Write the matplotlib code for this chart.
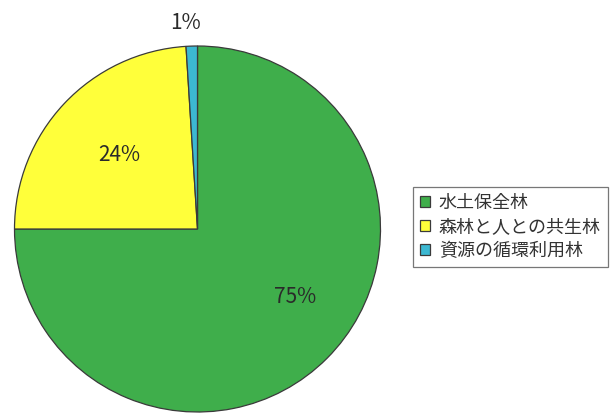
import numpy as np
import matplotlib
matplotlib.use('Agg')
import matplotlib.pyplot as plt

plt.rcParams['font.family'] = ['Noto Sans CJK JP', 'DejaVu Sans']

labels = ['水土保全林', '森林と人との共生林', '資源の循環利用林']
shares = [75, 24, 1]
colors = ['#3fae4b', '#ffff3a', '#3cb8d2']
# radial position of each percentage label (fraction of radius)
label_dist = [0.65, 0.59, 1.13]
label_shift = [10, 0, 1.5]  # degrees, nudged from wedge centre


def main():
    fig = plt.figure(figsize=(6.11, 4.13), dpi=100)
    W, H = 611, 413
    cx, cy, r = 197.5, 184, 183
    ax = fig.add_axes([(cx - r) / W, (cy - r) / H, 2 * r / W, 2 * r / H])

    wedges, _ = ax.pie(shares, colors=colors, startangle=90, counterclock=False,
                       radius=1.0,
                       wedgeprops=dict(edgecolor='#3a3a3a', linewidth=0.9))
    ax.set_xlim(-1, 1)
    ax.set_ylim(-1, 1)
    ax.set_aspect('equal')
    ax.axis('off')

    for w, s, d, sh in zip(wedges, shares, label_dist, label_shift):
        ang = np.deg2rad((w.theta1 + w.theta2) / 2 + sh)
        ax.text(d * np.cos(ang), d * np.sin(ang), f'{s}%',
                ha='center', va='center', fontsize=15, color='#2a2a2a',
                clip_on=False)

    leg = fig.legend(wedges, labels, loc='center left',
                     bbox_to_anchor=(413 / W, 1 - 227 / H),
                     fontsize=13, frameon=True, fancybox=False,
                     edgecolor='#555555', handlelength=0.55, handleheight=0.55,
                     handletextpad=0.5, labelspacing=0.32, borderpad=0.38,
                     borderaxespad=0)
    leg.get_frame().set_linewidth(0.9)
    for t in leg.get_texts():
        t.set_color('#333333')

    fig.savefig('out.png', dpi=100)


if __name__ == '__main__':
    main()
